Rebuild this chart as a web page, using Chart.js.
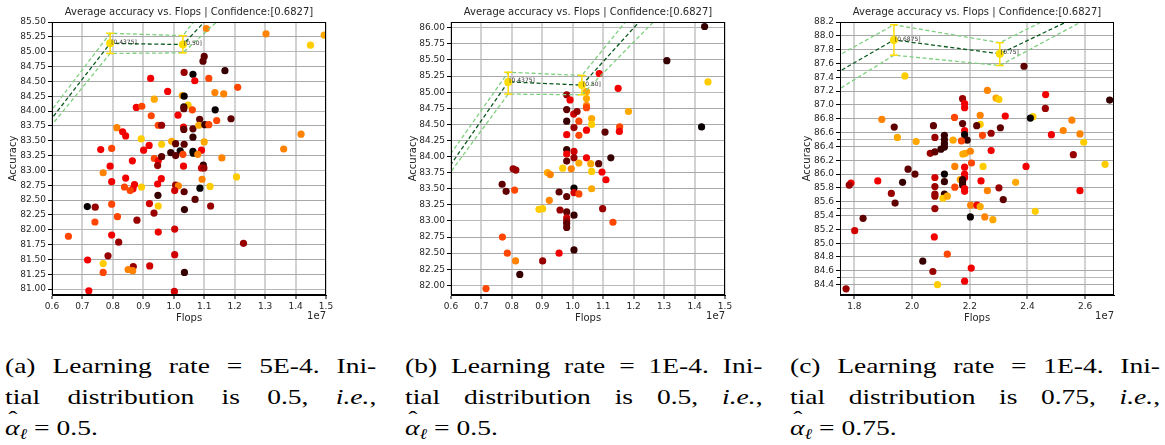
<!DOCTYPE html>
<html>
<head>
<meta charset="utf-8">
<script src="https://cdn.jsdelivr.net/npm/chart.js@4.4.1/dist/chart.umd.min.js"></script>
<style>
  body { margin: 0; background: #fff; width: 1165px; height: 445px; position: relative; overflow: hidden; }
  .plot { position: absolute; top: 0; }
  .cap { position: absolute; top: 350px; font-family: 'Liberation Serif', 'DejaVu Serif', serif; font-size: 22px; line-height: 31px; color: #000; transform: scaleX(1.25); transform-origin: 0 0; }
  .cap div { text-align: justify; text-align-last: justify; white-space: nowrap; }
  .cap div.last { text-align-last: left; }
  .cap sub { font-size: 0.68em; vertical-align: -0.25em; line-height: 0; }
  .ah { position: relative; display: inline-block; font-style: italic; }
  .ah .hat { position: absolute; left: 0.12em; top: -0.42em; font-style: normal; }
</style>
</head>
<body>
<div class="plot" style="left:0"><canvas id="chartA" width="380" height="330"></canvas></div>
<div class="plot" style="left:390px"><canvas id="chartB" width="385" height="330"></canvas></div>
<div class="plot" style="left:775px"><canvas id="chartC" width="390" height="330"></canvas></div>

<div class="cap" style="left:5px;width:297px">
  <div>(a) Learning rate = 5E-4. Ini-</div>
  <div>tial distribution is 0.5, <i>i.e.</i>,</div>
  <div class="last"><span class="ah">α<span class="hat">ˆ</span></span><sub><i>ℓ</i></sub> = 0.5.</div>
</div>
<div class="cap" style="left:405px;width:286px">
  <div>(b) Learning rate = 1E-4. Ini-</div>
  <div>tial distribution is 0.5, <i>i.e.</i>,</div>
  <div class="last"><span class="ah">α<span class="hat">ˆ</span></span><sub><i>ℓ</i></sub> = 0.5.</div>
</div>
<div class="cap" style="left:790px;width:296px">
  <div>(c) Learning rate = 1E-4. Ini-</div>
  <div>tial distribution is 0.75, <i>i.e.</i>,</div>
  <div class="last"><span class="ah">α<span class="hat">ˆ</span></span><sub><i>ℓ</i></sub> = 0.75.</div>
</div>

<script>
// ---- (a) lr 5E-4, init 0.5 ----  flops in units of 1e7
const flopsA = [1.107, 1.303, 1.449, 1.494, 1.100, 1.096, 1.034, 1.063, 1.168, 1.069,
  1.115, 0.924, 1.210, 0.980, 1.135, 1.164, 1.028, 1.034, 0.936, 1.047,
  1.033, 1.033, 0.877, 0.895, 1.061, 1.136, 0.926, 1.014, 1.085, 1.141,
  1.188, 0.813, 0.832, 0.842, 0.949, 0.960, 1.032, 1.033, 1.063, 1.082,
  1.102, 1.115, 1.063, 0.893, 0.993, 1.100, 1.006, 1.034, 0.960, 0.919,
  1.418, 1.361, 0.760, 0.796, 0.901, 1.063, 1.064, 1.091, 0.990, 1.021,
  0.936, 0.949, 0.960, 1.006, 1.030, 1.079, 1.158, 0.864, 0.791, 0.947,
  1.032, 1.097, 1.091, 1.099, 0.768, 1.206, 0.842, 1.093, 0.959, 0.796,
  0.871, 0.838, 0.894, 0.947, 1.006, 1.015, 1.119, 0.866, 0.857, 1.003,
  1.086, 0.948, 1.034, 1.070, 0.716, 0.742, 0.796, 0.920, 0.949, 1.121,
  1.035, 0.935, 0.815, 0.741, 0.879, 1.003, 0.949, 0.654, 0.796, 0.819,
  1.229, 0.784, 0.717, 1.003, 0.768, 0.921, 0.867, 0.850, 0.865, 0.768,
  1.035, 0.721, 1.002];
const accA = [85.39, 85.30, 85.11, 85.28, 84.92, 84.84, 84.65, 84.62, 84.68, 84.51,
  84.55, 84.55, 84.40, 84.33, 84.31, 84.29, 84.26, 84.25, 84.20, 84.10,
  84.07, 84.04, 84.06, 84.08, 84.02, 84.02, 83.92, 83.93, 83.86, 83.84,
  83.87, 83.72, 83.65, 83.58, 83.76, 83.76, 83.73, 83.69, 83.70, 83.76,
  83.77, 83.77, 83.56, 83.53, 83.49, 83.48, 83.45, 83.44, 83.44, 83.42,
  83.61, 83.36, 83.35, 83.37, 83.34, 83.32, 83.29, 83.34, 83.30, 83.33,
  83.20, 83.16, 83.23, 83.25, 83.27, 83.27, 83.21, 83.16, 83.07, 83.08,
  83.07, 83.09, 83.04, 83.04, 82.96, 82.89, 82.87, 82.85, 82.86, 82.81,
  82.76, 82.72, 82.72, 82.77, 82.75, 82.74, 82.73, 82.69, 82.66, 82.66,
  82.70, 82.58, 82.64, 82.51, 82.39, 82.38, 82.43, 82.44, 82.40, 82.40,
  82.34, 82.28, 82.22, 82.13, 82.16, 82.01, 81.96, 81.89, 81.91, 81.79,
  81.77, 81.56, 81.49, 81.58, 81.43, 81.39, 81.38, 81.33, 81.31, 81.28,
  81.28, 80.97, 80.96];
const shadeA = [7, 7, 9, 8, 2, 2, 3, 0, 1, 5,
  6, 5, 6, 5, 7, 7, 8, 0, 8, 9,
  1, 2, 5, 6, 6, 0, 6, 5, 2, 6,
  2, 7, 5, 5, 6, 3, 5, 2, 2, 8,
  1, 6, 1, 9, 8, 8, 2, 2, 9, 5,
  7, 7, 5, 6, 5, 0, 0, 5, 1, 0,
  6, 5, 2, 2, 6, 7, 7, 5, 5, 3,
  5, 1, 4, 3, 7, 9, 5, 7, 5, 5,
  5, 6, 9, 5, 3, 7, 9, 5, 6, 4,
  0, 1, 2, 2, 0, 3, 6, 4, 9, 3,
  1, 3, 6, 6, 3, 4, 5, 6, 5, 3,
  3, 3, 5, 4, 9, 4, 3, 7, 7, 6,
  1, 5, 4];
const bandXA = [0.5, 0.791, 1.030, 1.2];
const bandMeanA = [83.22, 85.14, 85.12, 86.04];
const bandUpA = [83.35, 85.31, 85.27, 86.39];
const bandLowA = [83.14, 84.97, 84.98, 85.78];
const markLabelsA = ['[0.4375]', '[0.50]'];
const xTicksA = [0.6, 0.7, 0.8, 0.9, 1.0, 1.1, 1.2, 1.3, 1.4, 1.5];
const yTicksA = [81.0, 81.25, 81.5, 81.75, 82.0, 82.25, 82.5, 82.75, 83.0, 83.25,
  83.5, 83.75, 84.0, 84.25, 84.5, 84.75, 85.0, 85.25, 85.5];
const yMinorA = [81, 82, 83, 84, 85];

// ---- (b) lr 1E-4, init 0.5 ----
const flopsB = [1.433, 1.309, 1.444, 1.087, 1.149, 1.045, 1.045, 0.980, 0.991, 0.980,
  1.003, 1.014, 1.045, 1.045, 1.183, 0.980, 1.020, 1.062, 1.062, 1.004,
  1.154, 1.153, 1.045, 1.106, 1.423, 0.980, 1.020, 0.980, 1.004, 0.980,
  1.004, 1.045, 1.125, 0.980, 1.020, 1.059, 1.085, 0.804, 0.813, 0.967,
  0.995, 1.062, 1.096, 0.917, 0.926, 1.109, 0.768, 0.781, 0.809, 1.062,
  1.004, 0.955, 1.004, 1.020, 0.980, 0.923, 0.889, 0.901, 0.958, 0.980,
  1.098, 1.004, 0.980, 0.980, 0.980, 0.980, 1.132, 0.769, 1.004, 0.785,
  0.955, 0.812, 0.901, 0.826, 0.715];
const accB = [86.02, 85.49, 85.16, 85.29, 85.06, 85.01, 84.90, 84.96, 84.88, 84.73,
  84.66, 84.70, 84.79, 84.76, 84.70, 84.55, 84.55, 84.59, 84.50, 84.45,
  84.46, 84.39, 84.41, 84.38, 84.46, 84.34, 84.33, 84.11, 84.08, 84.04,
  83.98, 83.98, 83.98, 83.93, 83.90, 83.89, 83.89, 83.81, 83.79, 83.82,
  83.81, 83.77, 83.76, 83.75, 83.72, 83.64, 83.57, 83.46, 83.48, 83.50,
  83.51, 83.45, 83.44, 83.42, 83.38, 83.32, 83.18, 83.19, 83.17, 83.14,
  83.19, 83.09, 83.05, 83.00, 82.96, 82.90, 82.98, 82.75, 82.55, 82.50,
  82.50, 82.38, 82.38, 82.17, 81.95];
const shadeB = [1, 1, 9, 5, 5, 8, 8, 3, 5, 2,
  4, 3, 7, 6, 8, 1, 6, 8, 9, 3,
  6, 5, 5, 2, 0, 5, 6, 1, 4, 5,
  3, 5, 1, 2, 8, 8, 2, 3, 3, 9,
  7, 9, 5, 8, 7, 5, 2, 2, 6, 8,
  0, 2, 4, 6, 2, 7, 9, 9, 3, 2,
  3, 1, 4, 3, 2, 2, 6, 6, 1, 6,
  5, 7, 3, 1, 6];
const bandXB = [0.5, 0.788, 1.030, 1.3];
const bandMeanB = [83.20, 85.16, 85.11, 86.52];
const bandUpB = [83.38, 85.31, 85.26, 86.83];
const bandLowB = [83.13, 84.97, 84.96, 86.26];
const markLabelsB = ['[0.4375]', '[0.50]'];
const xTicksB = [0.6, 0.7, 0.8, 0.9, 1.0, 1.1, 1.2, 1.3, 1.4, 1.5];
const yTicksB = [82.0, 82.25, 82.5, 82.75, 83.0, 83.25, 83.5, 83.75, 84.0, 84.25,
  84.5, 84.75, 85.0, 85.25, 85.5, 85.75, 86.0];
const yMinorB = [82, 83, 84, 85, 86];

// ---- (c) lr 1E-4, init 0.75 ----
const flopsC = [2.388, 1.975, 2.261, 2.291, 2.301, 2.463, 2.685, 2.175, 2.182, 2.182,
  2.462, 1.895, 1.938, 2.147, 2.236, 2.236, 2.323, 2.175, 2.224, 2.306,
  2.074, 2.419, 2.410, 2.554, 2.524, 2.182, 2.182, 2.191, 2.274, 2.244,
  2.483, 2.582, 2.595, 1.949, 2.014, 2.079, 2.112, 2.112, 2.112, 2.142,
  2.171, 2.112, 2.100, 2.063, 2.079, 2.176, 2.185, 2.202, 2.274, 2.559,
  2.206, 2.148, 2.182, 2.246, 2.395, 2.669, 1.986, 2.010, 2.112, 2.182,
  2.182, 2.079, 2.112, 2.167, 2.175, 2.175, 2.175, 2.239, 1.881, 1.967,
  1.788, 1.782, 2.359, 2.079, 2.148, 2.301, 2.182, 2.182, 2.261, 2.582,
  1.928, 2.079, 2.112, 2.079, 2.107, 2.122, 2.316, 1.941, 2.203, 2.225,
  2.236, 2.079, 2.427, 2.202, 2.252, 2.280, 1.830, 1.801, 2.077, 2.122,
  2.037, 2.072, 2.205, 2.182, 2.088, 1.771];
const accC = [87.56, 87.42, 87.21, 87.10, 87.08, 87.15, 87.07, 87.09, 87.02, 86.96,
  86.95, 86.79, 86.68, 86.82, 86.85, 86.72, 86.84, 86.73, 86.70, 86.67,
  86.70, 86.83, 86.81, 86.78, 86.63, 86.63, 86.57, 86.49, 86.59, 86.56,
  86.57, 86.58, 86.46, 86.53, 86.47, 86.53, 86.56, 86.50, 86.44, 86.49,
  86.48, 86.39, 86.36, 86.30, 86.32, 86.29, 86.30, 86.33, 86.34, 86.28,
  86.16, 86.11, 86.10, 86.11, 86.11, 86.14, 86.07, 86.00, 86.00, 86.00,
  85.95, 85.95, 85.89, 85.92, 85.92, 85.88, 85.84, 85.90, 85.90, 85.88,
  85.87, 85.84, 85.88, 85.82, 85.81, 85.80, 85.79, 85.75, 85.76, 85.76,
  85.72, 85.71, 85.71, 85.68, 85.65, 85.68, 85.63, 85.58, 85.55, 85.55,
  85.53, 85.50, 85.46, 85.38, 85.38, 85.34, 85.36, 85.18, 85.09, 84.84,
  84.74, 84.59, 84.64, 84.45, 84.40, 84.34];
const shadeC = [2, 9, 7, 8, 9, 5, 1, 3, 5, 5,
  3, 7, 2, 6, 7, 9, 5, 2, 2, 2,
  2, 9, 0, 7, 7, 5, 0, 1, 3, 6,
  5, 7, 9, 8, 8, 3, 1, 1, 1, 8,
  6, 1, 1, 3, 2, 8, 8, 7, 5, 3,
  6, 7, 5, 9, 5, 9, 2, 2, 0, 5,
  5, 4, 1, 8, 1, 1, 1, 5, 5, 1,
  5, 3, 8, 3, 6, 3, 5, 5, 7, 5,
  3, 3, 1, 3, 9, 8, 2, 2, 7, 5,
  8, 3, 9, 0, 7, 8, 2, 4, 5, 6,
  1, 3, 5, 5, 9, 3];
const bandXC = [1.6, 1.937, 2.304, 2.8];
const bandMeanC = [87.13, 87.94, 87.74, 88.73];
const bandUpC = [87.38, 88.16, 87.90, 88.93];
const bandLowC = [86.85, 87.72, 87.57, 88.68];
const markLabelsC = ['[0.6875]', '[0.75]'];
const xTicksC = [1.8, 2.0, 2.2, 2.4, 2.6];
const yTicksC = [84.4, 84.6, 84.8, 85.0, 85.2, 85.4, 85.6, 85.8, 86.0, 86.2,
  86.4, 86.6, 86.8, 87.0, 87.2, 87.4, 87.6, 87.8, 88.0, 88.2];
const yMinorC = [84.5, 85.5, 86.5, 87.5];

// colour ramp, black -> dark red -> red -> orange -> yellow
const shades = ['#080000', '#360000', '#5e0000', '#980000', '#d00000',
  '#f20000', '#ff4600', '#ff8200', '#ffa800', '#ffcc00'];

Chart.defaults.font.family = 'DejaVu Sans';
Chart.defaults.font.size = 9;
Chart.defaults.color = '#262626';

function pts(xs, ys) {
  return xs.map((x, i) => ({ x: x, y: ys[i] }));
}

// frame on all four sides, small value labels and the 1e7 offset text
const extras = {
  id: 'extras',
  afterDatasetsDraw(chart, args, opts) {
    const { ctx, chartArea: a, scales } = chart;
    ctx.save();
    ctx.font = '6px DejaVu Sans';
    ctx.fillStyle = '#333';
    ctx.textBaseline = 'middle';
    opts.labels.forEach((t, i) => {
      ctx.fillText(t, scales.x.getPixelForValue(opts.lx[i]) + 1, scales.y.getPixelForValue(opts.ly[i]) - 1);
    });
    ctx.strokeStyle = '#000';
    ctx.lineWidth = 1;
    ctx.strokeRect(Math.round(a.left) + 0.5, Math.round(a.top) + 0.5,
      Math.round(a.width) - 1, Math.round(a.height) - 1);
    ctx.font = '10px DejaVu Sans';
    ctx.fillStyle = '#262626';
    ctx.textAlign = 'right';
    ctx.fillText('1e7', a.right, a.bottom + 21);
    ctx.restore();
  }
};

function build(id, flops, acc, shade, bx, bMean, bUp, bLow, labels, xTicks, yTicks, yMinor,
               xMin, xMax, yMin, yMax, xDec, yDec, yWidth, padRight, titlePad) {
  const dark = '#0a5a1e', light = '#7fcf7f', gold = '#ffdd00';
  const sets = [];
  // two marked distributions with their error bars
  sets.push({ type: 'scatter', data: pts([bx[1], bx[2]], [bMean[1], bMean[2]]),
    pointRadius: 4, pointBackgroundColor: gold, pointBorderWidth: 0 });
  [1, 2].forEach(i => {
    sets.push({ type: 'line', data: pts([bx[i], bx[i]], [bLow[i], bUp[i]]),
      borderColor: gold, borderWidth: 1.5, pointStyle: 'line', pointRadius: 4,
      pointBorderColor: gold, pointBorderWidth: 1.5 });
  });
  sets.push({ type: 'line', data: pts(bx, bMean), borderColor: dark, borderWidth: 1.3,
    borderDash: [4, 2.5], pointRadius: 0 });
  sets.push({ type: 'line', data: pts(bx, bUp), borderColor: light, borderWidth: 1.3,
    borderDash: [4, 2.5], pointRadius: 0 });
  sets.push({ type: 'line', data: pts(bx, bLow), borderColor: light, borderWidth: 1.3,
    borderDash: [4, 2.5], pointRadius: 0 });
  sets.push({ type: 'scatter', data: pts(flops, acc),
    pointBackgroundColor: shade.map(s => shades[s]), pointRadius: 3.6, pointBorderWidth: 0 });

  new Chart(document.getElementById(id), {
    type: 'scatter',
    data: { datasets: sets },
    plugins: [extras],
    options: {
      responsive: false,
      animation: false,
      layout: { padding: { left: 0, right: padRight, top: 0, bottom: 0 } },
      plugins: {
        legend: { display: false },
        tooltip: { enabled: false },
        title: { display: true, fullSize: false, text: 'Average accuracy vs. Flops | Confidence:[0.6827]',
          font: { size: 10, weight: 'normal' }, color: '#262626', padding: { top: 6, bottom: 4 } },
        extras: { labels: labels, lx: [bx[1], bx[2]], ly: [bMean[1], bMean[2]] }
      },
      scales: {
        x: {
          type: 'linear', min: xMin, max: xMax,
          afterBuildTicks: s => { s.ticks = xTicks.map(v => ({ value: v })); },
          afterFit: s => { s.height = 35; },
          ticks: { callback: v => v.toFixed(xDec), padding: 2, maxRotation: 0, autoSkip: false },
          grid: { color: '#d2d2d2', lineWidth: 2, tickColor: '#000', tickLength: 4, tickWidth: 1 },
          border: { color: '#000', width: 1 },
          title: { display: true, text: 'Flops', font: { size: 10 }, padding: { top: 0, bottom: 6 } }
        },
        y: {
          type: 'linear', position: 'left', weight: 1, min: yMin, max: yMax,
          afterBuildTicks: s => { s.ticks = yTicks.map(v => ({ value: v })); },
          afterFit: s => { s.width = yWidth; },
          ticks: { callback: v => v.toFixed(yDec), padding: 2, autoSkip: false },
          grid: { color: '#a8a8a8', lineWidth: 1, tickColor: '#000', tickLength: 4 },
          border: { color: '#000', width: 1 },
          title: { display: true, text: 'Accuracy', font: { size: 10 }, padding: { top: titlePad, bottom: 0 } }
        },
        y2: {
          type: 'linear', position: 'left', weight: 0, min: yMin, max: yMax,
          afterBuildTicks: s => { s.ticks = yMinor.map(v => ({ value: v })); },
          afterFit: s => { s.width = 0; },
          ticks: { display: false },
          grid: { color: '#b8b8b8', lineWidth: 1, tickColor: '#000', tickLength: 3 },
          border: { display: false }
        }
      }
    }
  });
}

build('chartA', flopsA, accA, shadeA, bandXA, bandMeanA, bandUpA, bandLowA, markLabelsA,
  xTicksA, yTicksA, yMinorA, 0.6, 1.5, 80.9, 85.5, 1, 2, 52, 54, 7);
build('chartB', flopsB, accB, shadeB, bandXB, bandMeanB, bandUpB, bandLowB, markLabelsB,
  xTicksB, yTicksB, yMinorB, 0.6, 1.5, 81.85, 86.09, 1, 2, 61, 50, 17);
build('chartC', flopsC, accC, shadeC, bandXC, bandMeanC, bandUpC, bandLowC, markLabelsC,
  xTicksC, yTicksC, yMinorC, 1.75, 2.70, 84.25, 88.2, 1, 1, 65, 51, 26);
</script>
</body>
</html>
